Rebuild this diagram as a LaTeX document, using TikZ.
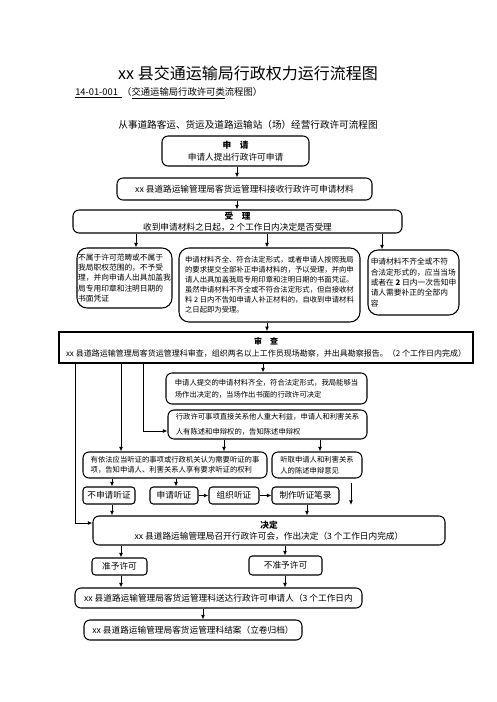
\documentclass[tikz,border=0pt]{standalone}
\usepackage{fontspec}
\setmainfont{Noto Sans CJK SC}
\usepackage{tikz}
\usetikzlibrary{arrows.meta}

\newcommand\boxfont{\fontsize{6.5}{9}\selectfont}
\newcommand\notefont{\fontsize{5.5}{7.5}\selectfont}

\begin{document}
\begin{tikzpicture}
		[
			x=0.75pt, y=-0.75pt,
			align=center,
			box/.style={draw, line width=0.8pt, rounded corners=4.5pt, inner sep=0pt, font=\boxfont},
			note/.style={box, align=left, font=\notefont},
			sz/.style 2 args={minimum width=#1*0.75pt, minimum height=#2*0.75pt},
			label/.style={draw=none, fill=none, inner sep=0pt},
			arrow/.style={-{Latex[length=3.5pt,width=3pt]}, line width=0.7pt}
		]

		\useasboundingbox (0,0) rectangle (496,702);

		% titles
		\node[label] (title)   at ( 248,  73 ) {\fontsize{12}{14}\selectfont xx 县交通运输局行政权力运行流程图};
		\node[label,anchor=west] (code) at ( 75,  93 ) {\fontsize{7}{8}\selectfont \underline{14-01-001\ \ }（\underline{交通运输局行政许可类}流程图）};
		\node[label] (heading) at ( 248, 125 ) {\fontsize{7.2}{8}\selectfont 从事道路客运、货运及道路运输站（场）经营行政许可流程图};

		% boxes
		\node[box, sz={147}{30}] (apply)  at ( 235.5, 151.0 ) {\textbf{申\quad 请}\\申请人提出行政许可申请};
		\node[box, sz={255}{22}] (recv)   at ( 244.5, 189.0 ) {xx 县道路运输管理局客货运管理科接收行政许可申请材料};
		\node[box, sz={329}{23}, font=\fontsize{6.5}{8}\selectfont] (accept) at ( 237.5, 221.5 ) {\textbf{受\quad 理}\\收到申请材料之日起，2 个工作日内决定是否受理};

		\node[note, sz={95}{60}, rounded corners=7.5pt, font=\fontsize{5.8}{7.7}\selectfont] (nonscope) at ( 124.5, 278.0 )
			{不属于许可范畴或不属于\\我局职权范围的，不予受\\理，并向申请人出具加盖我\\局专用印章和注明日期的\\书面凭证};
		\node[note, sz={181}{74}, rounded corners=7.5pt] (complete) at ( 269.5, 285.0 )
			{申请材料齐全、符合法定形式，或者申请人按照我局\\的要求提交全部补正申请材料的，予以受理，并向申\\请人出具加盖我局专用印章和注明日期的书面凭证。\\虽然申请材料不齐全或不符合法定形式，但自接收材\\料 2 日内不告知申请人补正材料的，自收到申请材料\\之日起即为受理。};
		\node[note, sz={91}{65}, rounded corners=7.5pt, font=\fontsize{5.8}{7.7}\selectfont] (incomplete) at ( 413.5, 282.5 )
			{申请材料不齐全或不符\\合法定形式的，应当当场\\或者在 \textbf{2} 日内一次告知申\\请人需要补正的全部内\\容};

		\node[draw, line width=1pt, inner sep=0pt, sz={414}{31}, font=\fontsize{6}{9}\selectfont] (review) at ( 266.0, 347.5 )
			{\textbf{审\quad 查}\\xx 县道路运输管理局客货运管理科审查，组织两名以上工作员现场勘察，并出具勘察报告。（2 个工作日内完成）};

		\node[note, sz={201}{31}, font=\fontsize{5.5}{8.7}\selectfont] (onsite) at ( 266.5, 388.5 )
			{申请人提交的申请材料齐全，符合法定形式，我局能够当\\场作出决定的，当场作出书面的行政许可决定};
		\node[note, sz={199}{29}, font=\fontsize{5.5}{11}\selectfont] (plead) at ( 267.5, 424.5 )
			{行政许可事项直接关系他人重大利益，申请人和利害关系\\人有陈述和申辩权的，告知陈述申辩权};
		\node[note, sz={184}{26}, font=\fontsize{5.5}{7.3}\selectfont] (hearing) at ( 175.0, 465.0 )
			{有依法应当听证的事项或行政机关认为需要听证的事\\项，告知申请人、利害关系人享有要求听证的权利};
		\node[note, sz={90}{26}, font=\fontsize{5.5}{8.2}\selectfont] (listen) at ( 317.0, 465.0 )
			{听取申请人和利害关系\\人的陈述申辩意见};

		\node[box, sz={52}{17}, rounded corners=2.5pt] (nohear)  at ( 109.0, 495.5 ) {不申请听证};
		\node[box, sz={48}{17}, rounded corners=2.5pt] (askhear) at ( 174.0, 495.5 ) {申请听证};
		\node[box, sz={50}{17}, rounded corners=2.5pt] (orghear) at ( 234.0, 495.5 ) {组织听证};
		\node[box, sz={67}{17}, rounded corners=2.5pt] (record)  at ( 305.5, 495.5 ) {制作听证笔录};

		\node[box, sz={352}{29}, font=\fontsize{6.5}{8.2}\selectfont] (decide) at ( 269.0, 530.5 )
			{\textbf{决定}\\xx 县道路运输管理局召开行政许可会，作出决定（3 个工作日内完成）};

		\node[box, sz={55}{17}, rounded corners=2.5pt] (grant) at ( 119.5, 566.5 ) {准予许可};
		\node[box, sz={73}{19}, rounded corners=2.5pt] (deny)  at ( 285.5, 565.5 ) {不准予许可};

		\node[box, sz={287}{20}] (deliver) at ( 218.5, 598.0 ) {xx 县道路运输管理局客货运管理科送达行政许可申请人（3 个工作日内};
		\node[box, sz={218}{20}] (close)   at ( 193.0, 630.0 ) {xx 县道路运输管理局客货运管理科结案（立卷归档）};

		\coordinate (listenend) at ( 351, 505 );

		% arrows
		\foreach \from/\to/\x in
		{
			apply/recv/237, recv/accept/237,
			accept/nonscope/136, accept/complete/267, accept/incomplete/382,
			complete/review/267, review/onsite/263,
			review/hearing/121,
			plead/hearing/224, plead/listen/320,
			hearing/nohear/112, hearing/askhear/176,
			nohear/decide/112, record/decide/307,
			decide/grant/121, decide/deny/285,
			grant/deliver/121, deny/deliver/285,
			deliver/close/203}
		\draw[arrow] (\from.south -| \x,0) -- (\to.north -| \x,0);
		\draw[arrow] (askhear) -- (orghear);
		\draw[arrow] (orghear) -- (record);
		\draw[arrow] (review.south -| 75,0) |- (decide.west |- 0,523);
		\draw[arrow] (review.south -| 143,0) |- (plead.west |- 0,431);
		\draw[arrow] ([yshift=-3pt]listen.south -| listenend) -- (listenend);

	\end{tikzpicture}
\end{document}
